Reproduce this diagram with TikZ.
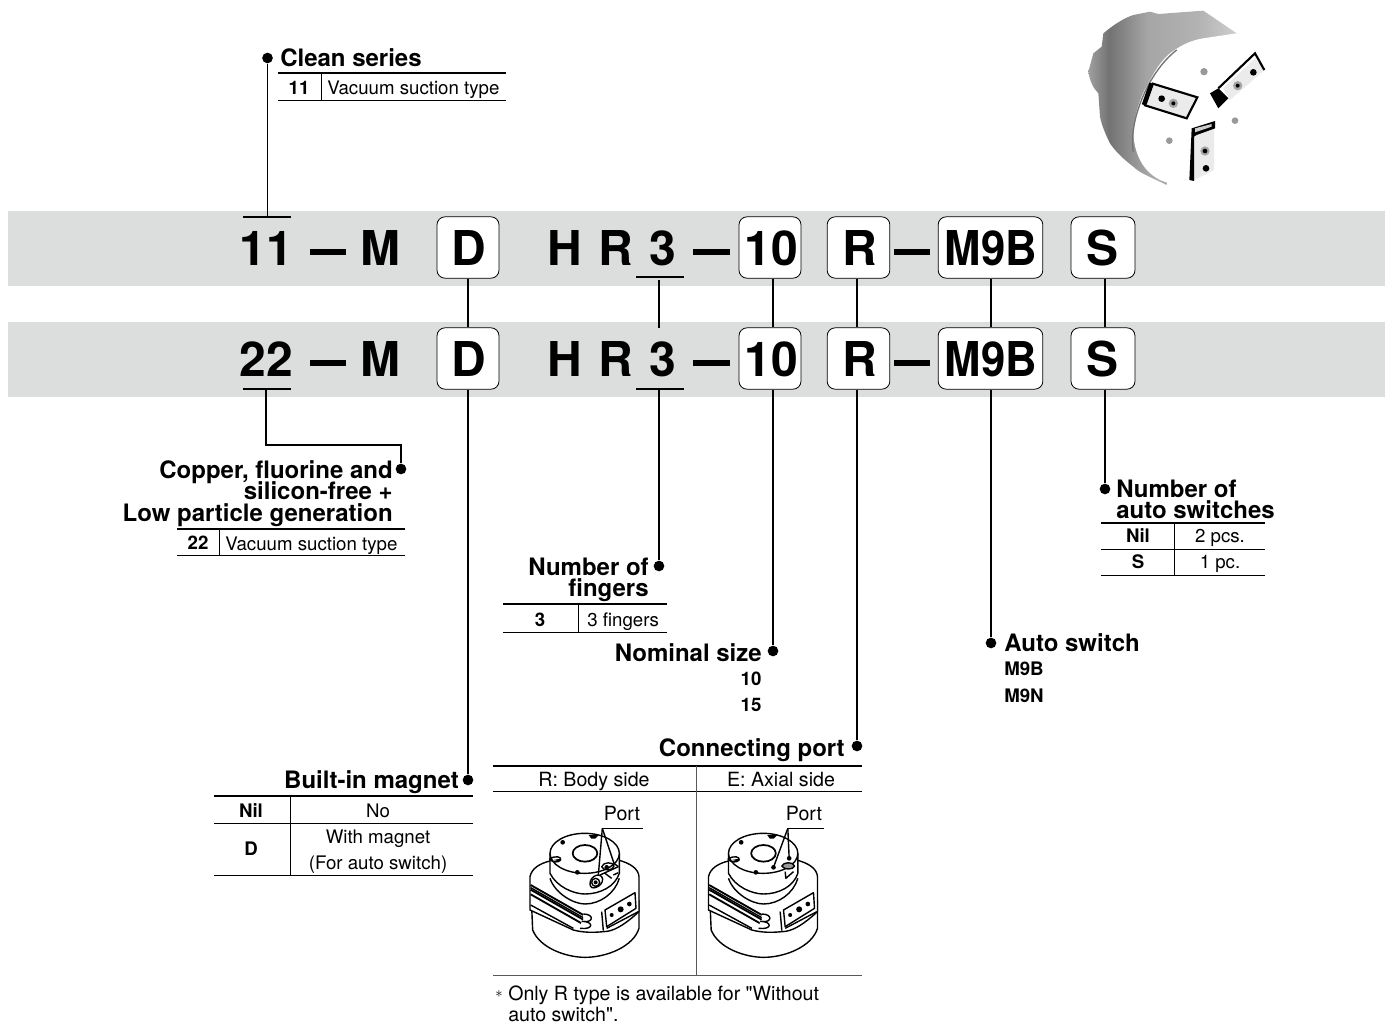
\documentclass[tikz,border=0pt]{standalone}
\usepackage{graphicx}
\usepackage{fontspec}
\setmainfont[Ligatures=TeXOff]{TeX Gyre Heros}
\usetikzlibrary{positioning}
\definecolor{bandgray}{HTML}{DCDDDD}
\pgfdeclarehorizontalshading{drumshade}{100bp}{color(0bp)=(black!30); color(12bp)=(black!45); color(22bp)=(black!30); color(32bp)=(black!55); color(45bp)=(black!35); color(62bp)=(black!30); color(80bp)=(black!15); color(100bp)=(black!5)}
\tikzset{
    big/.style={font=\fontsize{36}{36}\bfseries\selectfont, inner sep=0pt, anchor=base},
    codebox/.style={draw, fill=white, rounded corners=6pt, line width=0.6pt, minimum height=46pt, inner sep=0pt},
    head/.style={font=\fontsize{18}{18}\bfseries\selectfont, inner sep=0pt},
    cell/.style={font=\fontsize{14}{14}\selectfont, inner sep=0pt},
    wide/.style={font=\fontsize{14.7}{14.7}\selectfont, inner sep=0pt},
    code/.style={font=\fontsize{14}{14}\bfseries\selectfont, inner sep=0pt},
    wire/.style={line width=1.3pt},
    rule/.style={line width=0.6pt},
    dot/.style={circle, fill=black, inner sep=0pt, minimum size=8pt},
    sketch/.style={x=0.25pt, y=-0.25pt, line width=1.05pt, line join=round},
}
\newcommand{\gripperbody}[1]{%
    \begin{scope}[shift={(#1,760)}, sketch]
        % base
        \draw[fill=white] (125,440) -- (128,510) .. controls (150,565) and (230,592) .. (285,592) .. controls (350,592) and (430,560) .. (447,505) -- (447,420);
        % collar
        \draw[fill=white] (120,450) -- (120,350) .. controls (125,325) and (150,310) .. (180,303) -- (385,300) .. controls (420,310) and (445,325) .. (447,350) -- (447,455) -- (430,470) .. controls (400,495) and (370,515) .. (340,515) .. controls (310,518) and (280,518) .. (250,510) -- (120,450) -- cycle;
        % fins
        \foreach \yy in {375,389,403} {
            \draw[line width=1.4pt] (122,\yy) -- (280,\yy+90);
        }
        \draw (122,383) -- (280,473);
        \draw[fill=white] (280,462) .. controls (312,462) and (312,488) .. (280,485);
        \draw[fill=white] (275,484) .. controls (312,484) and (312,510) .. (270,505);
        \draw (122,435) -- (250,505);
        \draw (335,455) -- (340,512);
        % switch panel
        \draw (345,450) -- (435,398) -- (438,445) -- (350,500) -- cycle;
        \draw (350,505) -- (445,455);
        \fill (365,465) circle (6) (392,448) circle (9) (418,432) circle (7);
        % neck
        \draw[fill=white] (180,355) .. controls (195,400) and (250,432) .. (285,432) .. controls (330,432) and (375,400) .. (388,355);
        \draw[fill=white] (180,280) -- (180,340) .. controls (200,380) and (250,402) .. (285,402) .. controls (330,402) and (375,380) .. (388,340) -- (388,280);
        % top face
        \draw[fill=white] (284,280) ellipse (104 and 60);
        \draw[line width=1.3pt] (285,280) ellipse (37 and 25);
        \fill (218,247) circle (7) (262,337) circle (7);
        \fill (296,225) -- (326,225) -- (316,236) -- (304,236) -- cycle;
        \draw (178,298) .. controls (195,285) and (215,290) .. (212,300) .. controls (205,308) and (190,308) .. (178,298);
        \fill (190,300) -- (212,296) -- (208,304) -- cycle;
    \end{scope}
}
\begin{document}
\begin{tikzpicture}[x=0.75pt, y=-0.75pt]
    \useasboundingbox (0,0) rectangle (1390,1024);
    % bands
    \fill[bandgray] (8,211) rectangle (1385,286);
    \fill[bandgray] (8,322) rectangle (1385,397);
    % photo
    \begin{scope}[shift={(1070,0)}, x=0.25pt, y=-0.25pt]
        \shade[shading=drumshade] (55,215) -- (70,160) -- (95,140) -- (100,100) .. controls (130,75) and (160,55) .. (190,45) -- (240,35) -- (265,42) -- (400,32) -- (500,100) -- (300,400) -- (290,555) .. controls (240,530) and (210,520) .. (190,500) .. controls (150,470) and (130,445) .. (120,430) .. controls (105,400) and (95,375) .. (90,350) -- (85,280) .. controls (70,265) and (60,245) .. (55,215) -- cycle;
        \fill[white] (190,390) .. controls (195,340) and (215,280) .. (230,260) .. controls (250,220) and (270,185) .. (300,160) .. controls (340,130) and (370,120) .. (400,115) -- (500,100) .. controls (530,115) and (545,130) .. (560,150) .. controls (585,190) and (600,225) .. (600,250) .. controls (603,285) and (600,310) .. (590,330) .. controls (565,400) and (535,445) .. (500,480) .. controls (475,505) and (450,520) .. (420,530) -- (340,558) .. controls (310,555) and (290,548) .. (270,540) .. controls (240,525) and (220,500) .. (210,480) .. controls (195,450) and (190,420) .. (190,390) -- cycle;
        \draw[black!55, line width=1pt] (190,455) .. controls (175,370) and (230,220) .. (320,150);
        % slots
        \draw[line width=1.6pt, fill=black!8] (245,250) -- (382,292) -- (350,355) -- (222,315);
        \draw[line width=3.5pt] (245,250) -- (222,315);
        \fill (275,296) circle (10);
        \fill[gray!70] (310,310) circle (14);
        \fill (310,310) circle (6);
        \fill[black!8] (460,265) -- (555,175) -- (583,210) -- (480,300) -- cycle;
        \draw[line width=1.6pt] (445,265) -- (555,160) -- (583,210);
        \fill (420,280) -- (445,265) -- (475,295) -- (445,325) -- cycle;
        \fill (550,217) circle (10);
        \fill[gray!70] (503,257) circle (14);
        \fill (503,257) circle (6);
        \fill[black!8] (372,540) -- (372,410) -- (432,385) -- (432,510) -- cycle;
        \fill (365,385) -- (435,363) -- (435,385) -- (380,405) -- (372,410) -- (372,543) -- (358,540) -- cycle;
        \fill[gray!40] (375,385) -- (425,372) -- (425,380) -- (375,397) -- cycle;
        \fill[gray!70] (405,453) circle (14);
        \fill (405,453) circle (7);
        \fill (408,505) circle (10);
        \fill[gray!80] (402,215) circle (11) (495,362) circle (10) (298,422) circle (10);
    \end{scope}
    % top line
    \node (clean)    [head, anchor=base west] at (280,67)    {Clean series};
    \node (cleandot) [dot] at (267.5,58) {};
    \node (cleanid)  [code, anchor=base] at (299,94)         {11};
    \node (cleantxt) [cell, anchor=base west] at (327,94)    {Vacuum suction type};
    \node (a11)      [big] at (266,265)                      {11};
    \node (a22)      [big] at (266,376)                      {22};
    \node (am)       [big] at (380,265)                      {M};
    \node (bm)       [big] at (380,376)                      {M};
    \node (ah)       [big] at (565,265)                      {H};
    \node (bh)       [big] at (565,376)                      {H};
    \node (ar)       [big] at (616,265)                      {R};
    \node (br)       [big] at (616,376)                      {R};
    \node (a3)       [big] at (663,265)                      {3};
    \node (b3)       [big] at (663,376)                      {3};
    % dashes in the code
    \fill (310,249) rectangle (346,254.5);
    \fill (310,360) rectangle (346,365.5);
    \fill (693,249) rectangle (730,254.5);
    \fill (693,360) rectangle (730,365.5);
    \fill (894,249) rectangle (930,254.5);
    \fill (894,360) rectangle (930,365.5);
    % boxes
    \node (ad)   [codebox, minimum width=46.5pt] at (468,247.5)    {};
    \node (bd)   [codebox, minimum width=46.5pt] at (468,358.5)    {};
    \node (a10)  [codebox, minimum width=46.5pt] at (770,247.5)    {};
    \node (b10)  [codebox, minimum width=46.5pt] at (770,358.5)    {};
    \node (aport)[codebox, minimum width=47pt]   at (858.5,247.5)  {};
    \node (bport)[codebox, minimum width=47pt]   at (858.5,358.5)  {};
    \node (am9)  [codebox, minimum width=78.5pt] at (990.5,247.5)  {};
    \node (bm9)  [codebox, minimum width=78.5pt] at (990.5,358.5)  {};
    \node (as)   [codebox, minimum width=48pt]   at (1103,247.5)   {};
    \node (bs)   [codebox, minimum width=48pt]   at (1103,358.5)   {};
    \node (ad0)   [big] at (469,265)    {D};
    \node (bd0)   [big] at (469,376)    {D};
    \node (a100)  [big] at (771,265)    {10};
    \node (b100)  [big] at (771,376)    {10};
    \node (aport0)[big] at (860,265)    {R};
    \node (bport0)[big] at (860,376)    {R};
    \node (am90)  [big] at (991,265)    {\scalebox{0.91}[1]{M9B}};
    \node (bm90)  [big] at (991,376)    {\scalebox{0.91}[1]{M9B}};
    \node (as0)   [big] at (1102,265)   {S};
    \node (bs0)   [big] at (1102,376)   {S};
    % end points
    \node (d22)  [dot] at (401,469)  {};
    \node (dd)   [dot] at (468,780)  {};
    \node (d3)   [dot] at (659,566)  {};
    \node (d10)  [dot] at (773,651)  {};
    \node (dport)[dot] at (857,746)  {};
    \node (dm9)  [dot] at (991,643)  {};
    \node (ds)   [dot] at (1105,489) {};
    \coordinate (u11) at (267.5,217);
    \coordinate (u22) at (266,389);
    \coordinate (u3a) at (659,280);
    \coordinate (u3b) at (659,328);
    \coordinate (u3c) at (659,389);
    % connectors
    \draw[wire] (cleandot) -- (u11);
    \draw[wire] (243,217) -- (291,217);
    \draw[wire] (243,389) -- (291,389);
    \draw[wire] (636,277) -- (684,277);
    \draw[wire] (636,389) -- (684,389);
    \draw[wire] (u22) |- (401,445) -- (d22);
    \draw[wire] (u3a) -- (u3b);
    \draw[wire] (u3c) -- (d3);
    \draw[wire] (ad) -- (bd);
    \draw[wire] (bd) -- (dd);
    \draw[wire] (a10.south -| d10) -- (b10.north -| d10);
    \draw[wire] (b10.south -| d10) -- (d10);
    \draw[wire] (aport.south -| dport) -- (bport.north -| dport);
    \draw[wire] (bport.south -| dport) -- (dport);
    \draw[wire] (am9.south -| dm9) -- (bm9.north -| dm9);
    \draw[wire] (bm9.south -| dm9) -- (dm9);
    \draw[wire] (as.south -| ds) -- (bs.north -| ds);
    \draw[wire] (bs.south -| ds) -- (ds);
    % clean table
    \draw[wire] (278,73) -- (506,73);
    \draw[rule] (278,100) -- (506,100);
    \draw[rule] (321,73) -- (321,100);
    % copper table
    \node (cu1) [head, anchor=base east] at (393,478) {Copper, fluorine and};
    \node (cu2) [head, anchor=base east] at (393,499) {silicon-free +};
    \node (cu3) [head, anchor=base east] at (393,521) {Low particle generation};
    \node (cuid)  [code, anchor=base] at (198,549)      {22};
    \node (cutxt) [cell, anchor=base west] at (225,550) {Vacuum suction type};
    \draw[wire] (177,529) -- (405,529);
    \draw[rule] (177,555) -- (405,555);
    \draw[rule] (219,529) -- (219,555);
    % fingers
    \node (fn1) [head, anchor=base east] at (649,575) {Number of};
    \node (fn2) [head, anchor=base east] at (649,596) {fingers};
    \node (fnid)  [code, anchor=base] at (540,626)      {3};
    \node (fntxt) [cell, anchor=base west] at (587,626) {3 fingers};
    \draw[wire] (503,604) -- (667,604);
    \draw[rule] (503,632) -- (667,632);
    \draw[rule] (578,604) -- (578,632);
    % size
    \node (sz)   [head, anchor=base east] at (762,661) {Nominal size};
    \node (sz10) [code, anchor=base] at (751,685)      {10};
    \node (sz15) [code, anchor=base] at (751,711)      {15};
    % switch
    \node (sw)  [head, anchor=base west] at (1004,651) {Auto switch};
    \node (sw1) [code, anchor=base west] at (1004,675) {M9B};
    \node (sw2) [code, anchor=base west] at (1004,702) {M9N};
    % number of switches
    \node (ns1) [head, anchor=base west] at (1116,497) {Number of};
    \node (ns2) [head, anchor=base west] at (1116,518) {auto switches};
    \node (nsa) [code, anchor=base] at (1138,542)      {Nil};
    \node (nsb) [cell, anchor=base] at (1220,542)      {2 pcs.};
    \node (nsc) [code, anchor=base] at (1138,568)      {S};
    \node (nsd) [cell, anchor=base] at (1220,568)      {1 pc.};
    \draw[wire] (1101,523) -- (1265,523);
    \draw[rule] (1101,549) -- (1265,549);
    \draw[rule] (1101,575) -- (1265,575);
    \draw[rule] (1174,523) -- (1174,575);
    % magnet
    \node (mg)  [head, anchor=base east] at (459,788) {Built-in magnet};
    \node (mga) [code, anchor=base] at (251,817)      {Nil};
    \node (mgb) [cell, anchor=base] at (378,817)      {No};
    \node (mgc) [code, anchor=base] at (251,855)      {D};
    \node (mgd) [cell, anchor=base] at (378,843)      {With magnet};
    \node (mge) [cell, anchor=base] at (378,869)      {(For auto switch)};
    \draw[wire] (214,796) -- (473,796);
    \draw[rule] (214,823) -- (473,823);
    \draw[rule] (214,875) -- (473,875);
    \draw[rule] (290,796) -- (290,875);
    % port
    \node (pt)  [head, anchor=base east] at (845,756) {Connecting port};
    \node (pta) [wide, anchor=base] at (594,786)      {R: Body side};
    \node (ptb) [wide, anchor=base] at (781,786)      {E: Axial side};
    \draw[wire] (493,766) -- (862,766);
    \draw[rule] (493,791) -- (862,791);
    \draw[rule, black!65] (493,975) -- (862,975);
    \draw[rule, black!65] (696,766) -- (696,975);
    % gripper drawings
    \gripperbody{490}
    \gripperbody{668.5}
    \node (pl1) [wide, anchor=base] at (622,820) {Port};
    \node (pl2) [wide, anchor=base] at (804,820) {Port};
    \begin{scope}[shift={(490,760)}, sketch]
        \draw[fill=white] (300,372) .. controls (300,345) and (335,335) .. (338,358) .. controls (338,380) and (300,395) .. (300,372) -- cycle;
        \draw (317,367) circle (12);
        \fill (317,367) circle (6);
        \draw (335,320) .. controls (340,305) and (370,305) .. (372,318) .. controls (370,332) and (340,335) .. (335,320) -- cycle;
        \fill (350,322) circle (7);
        \draw (330,345) -- (385,320) (345,340) -- (365,355) (370,345) -- (385,338);
        \draw (337,205) -- (460,205);
        \draw (337,205) -- (325,345);
        \draw (337,205) -- (372,310) -- (385,320);
    \end{scope}
    \begin{scope}[shift={(668.5,760)}, sketch]
        \draw (358,205) -- (465,205);
        \draw (358,205) -- (315,322);
        \draw (358,205) -- (362,295);
        \fill (315,322) circle (7) (362,295) circle (7);
        \draw[fill=black!40] (340,318) .. controls (345,305) and (375,305) .. (378,318) .. controls (375,330) and (345,330) .. (340,318) -- cycle;
        \draw (350,335) -- (352,355) -- (375,335);
    \end{scope}
    % note
    \node (star) [font=\fontsize{11}{11}\selectfont, inner sep=0pt, anchor=base] at (499,997) {$*$};
    \node (nt1) [wide, anchor=base west] at (508,1000) {Only R type is available for "Without};
    \node (nt2) [wide, anchor=base west] at (508,1021) {auto switch".};
\end{tikzpicture}
\end{document}
